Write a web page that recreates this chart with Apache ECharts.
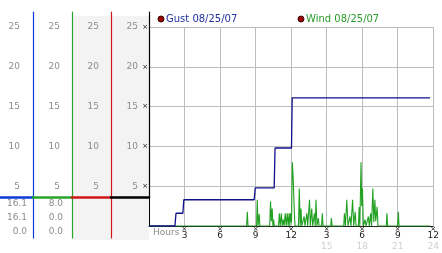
<!DOCTYPE html>
<html><head><meta charset="utf-8">
<script src="https://cdn.jsdelivr.net/npm/echarts@6/dist/echarts.min.js"></script>
<style>html,body{margin:0;padding:0;background:#fff}#c{width:442px;height:253px}</style>
</head><body><div id="c"></div>
<script>
// ---- data ----
const gustName = 'Gust 08/25/07';
const windName = 'Wind 08/25/07';
const yTicks = [5, 10, 15, 20, 25];
const hourLabels = ['Hours', '3', '6', '9', '12', '3', '6', '9', '12'];
const hourLabels2 = ['', '', '', '', '', '15', '18', '21', '24'];
const gustStats = ['16.1', '16.1', '0.0'];
const windStats = ['8.0', '0.0', '0.0'];
const gustData = [[0,0],[2.19,0],[2.28,1.6],[2.86,1.6],[2.94,3.3],[8.88,3.3],[8.97,4.8],[10.57,4.8],[10.64,9.8],[12.03,9.8],[12.09,16.1],[23.73,16.1]];
const windData = [[0,0],
 [8.24,0],[8.30,1.8],[8.36,0],
 [9.08,0],[9.14,3.3],[9.21,0],[9.30,1.5],[9.36,0],
 [10.19,0],[10.26,3.1],[10.33,0.6],[10.40,2.2],[10.46,0],[10.52,0.8],[10.58,0],
 [10.94,0],[11.00,1.6],[11.08,0],[11.17,1.6],[11.25,0],[11.33,0.8],[11.41,0],[11.50,1.6],[11.58,0],[11.67,1.6],[11.75,0],[11.83,1.6],[11.89,0],[11.95,1.6],[12.03,0.4],[12.10,8.0],[12.18,5.8],[12.26,2.0],[12.33,0],
 [12.62,0],[12.69,4.7],[12.76,0],[12.83,2.2],[12.90,0],
 [13.04,0],[13.10,1.2],[13.17,0],[13.27,0],[13.33,1.6],[13.40,0],[13.48,0],[13.55,3.3],[13.62,0],[13.74,2.2],[13.82,0],[13.90,0],[13.97,1.6],[14.03,0],[14.10,3.3],[14.18,0],[14.30,1.0],[14.36,0],
 [14.57,0],[14.63,1.6],[14.69,0],
 [15.34,0],[15.40,1.0],[15.46,0],
 [16.44,0],[16.50,1.6],[16.58,0],[16.70,3.3],[16.80,0],[16.97,1.2],[17.05,0],[17.19,3.3],[17.28,0],[17.41,1.8],[17.48,0],
 [17.68,0],[17.74,2.4],[17.80,0],[17.90,8.0],[17.96,2.5],[18.02,4.7],[18.10,0],[18.24,0.8],[18.32,0],
 [18.46,0],[18.52,1.2],[18.60,0],[18.71,1.6],[18.79,0],[18.84,0],[18.90,4.7],[18.98,0.5],[19.07,3.3],[19.14,0.6],[19.26,2.4],[19.33,0],
 [20.03,0],[20.09,1.6],[20.15,0],
 [20.99,0],[21.05,1.8],[21.11,0],
 [23.75,0]];

// ---- layout ----
const FF = 'DejaVu Sans';
const H = 253;
const plotLeft = 149, plotRightX = 438.7, plotTop = 27, zeroY = 226;
const lineTop = 12, sepY = 197, lowerBottom = 238;
const pxPerUnit = (zeroY - plotTop) / 25;
const upMin = (zeroY - sepY) / pxPerUnit, upMax = (zeroY - lineTop) / pxPerUnit;
const labelGray = '#8c8c8c';
const cols = [
  {left: 0, lineX: 33, color: '#0a3cdc', margin: 13, stats: gustStats, sm: 6},
  {left: 33, lineX: 72, color: '#28a428', margin: 12, stats: windStats, sm: 9},
  {left: 72, lineX: 111, color: '#d01818', margin: 12, stats: ['', '', ''], sm: 6},
  {left: 111, lineX: 149, color: '#000000', margin: 11, stats: null}
];

const grid = [{left: plotLeft, right: 442 - plotRightX, top: plotTop, bottom: H - zeroY}];
const xAxis = [{
  gridIndex: 0, type: 'value', min: 0, max: 24, interval: 3,
  axisLine: {show: true, lineStyle: {color: '#222', width: 1}},
  axisTick: {show: false},
  splitLine: {show: true, lineStyle: {color: '#bdbdbd', width: 1}},
  axisLabel: {
    margin: 1, alignMinLabel: 'left',
    formatter: function (v) {
      const i = Math.round(v / 3);
      if (i === 0) return '{h|' + hourLabels[0] + '}';
      let s = '{m|×}\n{n|' + hourLabels[i] + '}';
      if (hourLabels2[i]) s += '\n{f|' + hourLabels2[i] + '}';
      return s;
    },
    rich: {
      h: {fontSize: 9, fontFamily: FF, color: '#8c8c8c', lineHeight: 12, padding: [0, 0, 0, 4]},
      m: {fontSize: 7, fontFamily: FF, color: '#111', lineHeight: 5},
      n: {fontSize: 9, fontFamily: FF, color: '#222', lineHeight: 7},
      f: {fontSize: 9, fontFamily: FF, color: '#d0d0d0', lineHeight: 15}
    }
  }
}];
const yAxis = [{
  gridIndex: 0, type: 'value', min: 0, max: 25, interval: 5,
  axisLine: {show: true, lineStyle: {color: '#000', width: 1}},
  axisTick: {show: false},
  splitLine: {show: true, lineStyle: {color: '#bdbdbd', width: 1}},
  axisLabel: {margin: 1, fontSize: 7, color: '#111', fontFamily: FF,
    formatter: v => v === 0 ? '' : '×'}
}];

function addGrid(g, xa, ya) {
  const gi = grid.length;
  grid.push(g);
  xAxis.push(Object.assign({gridIndex: gi}, xa));
  yAxis.push(Object.assign({gridIndex: gi}, ya));
}
// background panel (behind columns 3 and 4)
addGrid({left: 72, width: 77, top: 16, bottom: H - 240, show: true, backgroundColor: '#f3f3f3', borderWidth: 0, z: -1},
  {type: 'value', show: false}, {type: 'value', show: false});

cols.forEach(c => {
  // horizontal separator across the column
  addGrid({left: c.left, width: c.lineX - c.left, top: lineTop, height: sepY - lineTop},
    {type: 'value', min: 0, max: 1, position: 'bottom',
      axisLine: {show: true, onZero: false, lineStyle: {color: c.color, width: 2.5}},
      axisTick: {show: false}, axisLabel: {show: false}, splitLine: {show: false}},
    {type: 'value', show: false});
  // scale labels + vertical line
  addGrid({left: c.lineX, width: 10, top: lineTop, height: sepY - lineTop},
    {type: 'value', show: false},
    {type: 'value', position: 'left', min: upMin, max: upMax,
      axisLine: {show: true, onZero: false, lineStyle: {color: c.color, width: 1.2}},
      axisTick: {show: false}, splitLine: {show: false},
      axisLabel: {margin: c.margin, color: labelGray, fontSize: 9, fontFamily: FF, customValues: yTicks}});
  // stats rows + vertical line below separator
  if (c.stats) {
    addGrid({left: c.lineX, width: 10, top: sepY, height: lowerBottom - sepY},
      {type: 'value', show: false},
      {type: 'category', data: c.stats, inverse: true, position: 'left',
        axisLine: {show: true, onZero: false, lineStyle: {color: c.color, width: 1.2}},
        axisTick: {show: false}, splitLine: {show: false},
        axisLabel: {margin: c.sm, color: labelGray, fontSize: 9, fontFamily: FF}});
  }
});

const legendCommon = {top: 14, padding: 0, itemWidth: 6, itemHeight: 6, itemGap: 0, selectedMode: false, icon: 'circle'};
const option = {
  animation: false,
  backgroundColor: '#fff',
  grid, xAxis, yAxis,
  legend: [
    Object.assign({left: 157.5, data: [{name: gustName,
      itemStyle: {color: '#a00000', borderColor: '#300', borderWidth: 1},
      textStyle: {color: '#2030a0', fontSize: 10, fontFamily: FF, padding: [0, 0, 0, -3]}}]}, legendCommon),
    Object.assign({left: 297.5, data: [{name: windName,
      itemStyle: {color: '#a00000', borderColor: '#300', borderWidth: 1},
      textStyle: {color: '#2a9a2a', fontSize: 10, fontFamily: FF, padding: [0, 0, 0, -3]}}]}, legendCommon)
  ],
  series: [
    {name: windName, type: 'line', xAxisIndex: 0, yAxisIndex: 0, data: windData,
      showSymbol: false, symbol: 'none', z: 2,
      itemStyle: {color: '#22a022'}, lineStyle: {color: '#22a022', width: 1.1}},
    {name: gustName, type: 'line', xAxisIndex: 0, yAxisIndex: 0, data: gustData,
      showSymbol: false, symbol: 'none', z: 3,
      itemStyle: {color: '#10108a'}, lineStyle: {color: '#10108a', width: 1.3}}
  ]
};
const chart = echarts.init(document.getElementById('c'), null, {renderer: 'canvas'});
chart.setOption(option);
</script>
</body></html>
